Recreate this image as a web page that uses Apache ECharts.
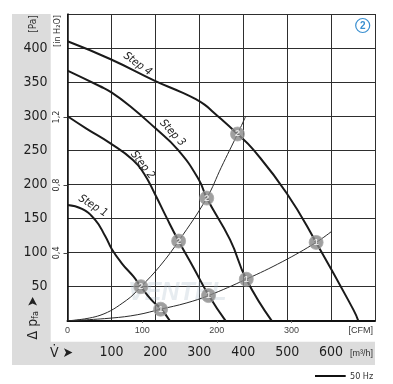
<!DOCTYPE html>
<html><head><meta charset="utf-8">
<script src="https://cdn.jsdelivr.net/npm/echarts@6/dist/echarts.min.js"></script>
<style>html,body{margin:0;padding:0;background:#fff}#c{width:393px;height:384px}</style>
</head><body><div id="c"></div>
<script>
// ---- data ----
const flowTicks = [100, 200, 300, 400, 500, 600];          // m³/h labels
const cfmTicks = [0, 100, 200, 300];                         // CFM labels
const paTicks = [50, 100, 150, 200, 250, 300, 350, 400];     // Pa labels
const inH2OTicks = [0.4, 0.8, 1.2];                          // in H2O labels

// fan curves [m³/h, Pa]
const step1 = [[0,170],[33,164],[63,148],[86,124],[101,105],[124,84],[150,65],[167,50],[192,30],[212,18],[233,0]];
const step2 = [[0,300],[43,282],[96,261],[149,236],[174,216],[199,186],[225,152],[253,117],[286,79],[321,38],[360,0]];
const step3 = [[0,367],[74,344],[100,335],[142,315],[199,283],[251,251],[299,207],[317,180],[370,119],[407,61],[465,0]];
const step4 = [[0,410],[97,384],[199,352],[260,335],[292,325],[312,317],[332,306],[387,274],[423,251],[499,187],[566,115],[651,16],[662,0]];

// system curves
const system2 = [[0,0],[74,8],[134,30],[167,50],[210,80],[253,117],[317,180],[350,225],[387,274],[405,299]];
const system1 = [[0,0],[100,4],[160,9],[212,17],[270,26],[321,37],[407,61],[490,87],[566,115],[601,131]];

// operating points
const opPoints2 = [[167,50],[253,117],[317,180],[387,274]];
const opPoints1 = [[212,17],[321,37],[407,61],[566,115]];

const M3H_PER_CFM = 1.699;
const PA_PER_INH2O = 249.089;

const NARROW = "'Liberation Sans Narrow','DejaVu Sans Condensed','Liberation Sans',sans-serif";

const chart = echarts.init(document.getElementById('c'), null, {renderer: 'canvas'});

function curve(data, name) {
  return {type: 'line', name: name, data: data, smooth: 0.5, symbol: 'none',
    lineStyle: {color: '#1a1a1a', width: 2}, z: 3, xAxisIndex: 0, yAxisIndex: 0};
}
function sysCurve(data) {
  return {type: 'line', data: data, smooth: 0.4, symbol: 'none',
    lineStyle: {color: '#2a2a2a', width: 1}, z: 2, xAxisIndex: 0, yAxisIndex: 0};
}
function points(data, label) {
  return {type: 'scatter', data: data, symbol: 'circle', symbolSize: 14, z: 5,
    itemStyle: {color: '#878787', borderColor: '#a9a9a9', borderWidth: 1},
    emphasis: {disabled: true},
    label: {show: true, position: 'inside', formatter: label, color: '#ffffff', fontSize: 9,
      textBorderWidth: 0, fontFamily: 'Liberation Sans, sans-serif', fontWeight: 'bold'}};
}

const option = {
  animation: false,
  backgroundColor: '#fff',
  grid: {left: 67.5, top: 14, width: 307.5, height: 306.8, containLabel: false},
  xAxis: [
    {type: 'value', min: 0, max: 700, interval: 100, position: 'bottom',
      axisLine: {show: true, onZero: false, lineStyle: {color: '#111', width: 2}},
      axisTick: {show: false},
      splitLine: {show: true, lineStyle: {color: '#2e2e2e', width: 1}},
      axisLabel: {customValues: flowTicks, margin: 25, fontSize: 14, color: '#1e1e1e', fontFamily: NARROW}},
    {type: 'value', min: 0, max: 700 / M3H_PER_CFM, position: 'bottom',
      axisLine: {show: false}, splitLine: {show: false},
      axisTick: {show: true, customValues: [100, 200, 300], length: 2, inside: false, lineStyle: {color: '#555'}},
      axisLabel: {customValues: cfmTicks, margin: 5, fontSize: 9, color: '#444', fontFamily: 'Liberation Sans, sans-serif'}}
  ],
  yAxis: [
    {type: 'value', min: 0, max: 450, interval: 50, position: 'left',
      axisLine: {show: true, onZero: false, lineStyle: {color: '#111', width: 1.5}},
      axisTick: {show: false},
      splitLine: {show: true, lineStyle: {color: '#2e2e2e', width: 1}},
      axisLabel: {customValues: paTicks, margin: 20, fontSize: 14, color: '#1e1e1e', fontFamily: NARROW}},
    {type: 'value', min: 0, max: 450 / PA_PER_INH2O, position: 'left',
      axisLine: {show: false}, splitLine: {show: false},
      axisTick: {show: true, customValues: inH2OTicks, length: 4, lineStyle: {color: '#444'}},
      axisLabel: {customValues: inH2OTicks, rotate: 90, margin: 6, fontSize: 9, color: '#333',
        fontFamily: NARROW, formatter: v => String(v).replace('.', ',')}}
  ],
  series: [
    sysCurve(system2), sysCurve(system1),
    curve(step1, 'Step 1'), curve(step2, 'Step 2'), curve(step3, 'Step 3'), curve(step4, 'Step 4'),
    points(opPoints2, '2'), points(opPoints1, '1')
  ],
  graphic: [
    // gray bands
    {type: 'rect', z: -10, shape: {x: 12, y: 14, width: 38.7, height: 351}, style: {fill: '#dcdcdc'}, silent: true},
    {type: 'rect', z: -10, shape: {x: 12, y: 341.7, width: 363, height: 23.3}, style: {fill: '#dcdcdc'}, silent: true},
    // watermark
    {type: 'text', z: 1, x: 128, y: 281, style: {text: 'VENTEL', fontSize: 25, fontStyle: 'italic', fontWeight: 'bold',
      fontFamily: 'Liberation Sans, sans-serif', fill: 'rgba(170,185,200,0.28)'}},
    // unit labels
    {type: 'text', x: 33, y: 24, rotation: Math.PI / 2, style: {text: '[Pa]', fontSize: 10, fill: '#333',
      fontFamily: NARROW, align: 'center', verticalAlign: 'middle'}},
    {type: 'text', x: 58, y: 31, rotation: Math.PI / 2, style: {text: '[in H\u2082O]', fontSize: 9, fill: '#333',
      fontFamily: NARROW, align: 'center', verticalAlign: 'middle'}},
    {type: 'text', x: 33, y: 318, rotation: Math.PI / 2, style: {
      text: '\u0394 p{s|fa} \u27A4', fontSize: 14, fill: '#222', fontFamily: NARROW, align: 'center', verticalAlign: 'middle',
      rich: {s: {fontSize: 9, fill: '#222', fontFamily: NARROW, verticalAlign: 'bottom', padding: [6, 0, 0, 0]}}}},
    {type: 'text', x: 50, y: 353, style: {text: 'V\u0307 \u27A4', fontSize: 14, fill: '#222', fontFamily: NARROW,
      align: 'left', verticalAlign: 'middle'}},
    {type: 'text', x: 373, y: 330.7, style: {text: '[CFM]', fontSize: 9, fill: '#333', fontFamily: 'Liberation Sans, sans-serif',
      align: 'right', verticalAlign: 'middle'}},
    {type: 'text', x: 373, y: 353.5, style: {text: '[m\u00B3/h]', fontSize: 9, fill: '#333', fontFamily: 'Liberation Sans, sans-serif',
      align: 'right', verticalAlign: 'middle'}},
    // step labels
    {type: 'text', x: 137.5, y: 64, rotation: -36 * Math.PI / 180, style: {text: 'Step 4', fontSize: 11, fontStyle: 'italic',
      fill: '#222', fontFamily: NARROW, align: 'center', verticalAlign: 'middle'}},
    {type: 'text', x: 172.5, y: 133, rotation: -47 * Math.PI / 180, style: {text: 'Step 3', fontSize: 11, fontStyle: 'italic',
      fill: '#222', fontFamily: NARROW, align: 'center', verticalAlign: 'middle'}},
    {type: 'text', x: 142.5, y: 165, rotation: -52 * Math.PI / 180, style: {text: 'Step 2', fontSize: 11, fontStyle: 'italic',
      fill: '#222', fontFamily: NARROW, align: 'center', verticalAlign: 'middle'}},
    {type: 'text', x: 93, y: 206, rotation: -32 * Math.PI / 180, style: {text: 'Step 1', fontSize: 11, fontStyle: 'italic',
      fill: '#222', fontFamily: NARROW, align: 'center', verticalAlign: 'middle'}},
    // blue badge
    {type: 'circle', shape: {cx: 362.7, cy: 25.5, r: 7}, style: {fill: '#fff', stroke: '#3a8fd0', lineWidth: 1.2}},
    {type: 'text', x: 362.7, y: 25.8, style: {text: '2', fontSize: 10, fontWeight: 'bold', fill: '#3a8fd0',
      fontFamily: 'Liberation Sans, sans-serif', align: 'center', verticalAlign: 'middle'}},
    // legend
    {type: 'line', shape: {x1: 315, y1: 376, x2: 345.7, y2: 376}, style: {stroke: '#111', lineWidth: 2}},
    {type: 'text', x: 350, y: 376.5, style: {text: '50 Hz', fontSize: 9, fill: '#333', fontFamily: NARROW,
      align: 'left', verticalAlign: 'middle'}}
  ]
};
chart.setOption(option);
</script></body></html>
